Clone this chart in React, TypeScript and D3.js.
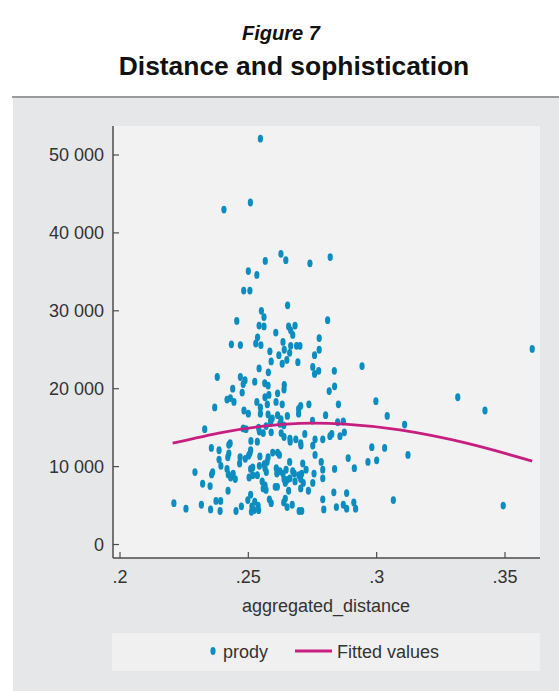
import React from "react";
import * as d3 from "d3";

// aggregated_distance / prody pairs
const distance = [
  0.2547, 0.2405, 0.2508, 0.2566, 0.2627, 0.2646, 0.274, 0.2819, 0.25, 0.2533,
  0.2482, 0.2506, 0.2653, 0.2551, 0.2561, 0.2455, 0.2809, 0.2542, 0.2561, 0.2657,
  0.2682, 0.2665, 0.2673, 0.2607, 0.2536, 0.2529, 0.2549, 0.2434, 0.2469, 0.2635,
  0.2688, 0.2701, 0.2776, 0.2665, 0.2584, 0.264, 0.2776, 0.2619, 0.2661, 0.2758,
  0.2589, 0.265, 0.2632, 0.2693, 0.2542, 0.2751, 0.2758, 0.2774, 0.2578, 0.2835,
  0.2379, 0.2469, 0.2487, 0.248, 0.2525, 0.2564, 0.2577, 0.264, 0.2639, 0.2815,
  0.2836, 0.2439, 0.2476, 0.2614, 0.258, 0.2565, 0.2417, 0.243, 0.2444, 0.2533,
  0.2574, 0.2608, 0.2632, 0.2369, 0.2547, 0.2696, 0.2704, 0.2736, 0.2851, 0.2483,
  0.25, 0.2547, 0.2696, 0.2577, 0.2593, 0.2614, 0.2652, 0.2801, 0.275, 0.2587,
  0.2627, 0.2848, 0.287, 0.2874, 0.2857, 0.2818, 0.2825, 0.279, 0.276, 0.2751,
  0.272, 0.2704, 0.233, 0.248, 0.2491, 0.254, 0.2569, 0.2587, 0.2623, 0.2638,
  0.2543, 0.2558, 0.2589, 0.2628, 0.2639, 0.2662, 0.2663, 0.2685, 0.2705, 0.251,
  0.2535, 0.2429, 0.2424, 0.2356, 0.2386, 0.2509, 0.2506, 0.2424, 0.242, 0.2386,
  0.2468, 0.2466, 0.2488, 0.2501, 0.2545, 0.2577, 0.2595, 0.2614, 0.2621, 0.2573,
  0.2562, 0.2543, 0.2517, 0.2509, 0.2393, 0.2292, 0.2361, 0.2357, 0.2417, 0.2422,
  0.2441, 0.2431, 0.2449, 0.2503, 0.2517, 0.2535, 0.2565, 0.257, 0.2609, 0.2611,
  0.2623, 0.2635, 0.2647, 0.2661, 0.2673, 0.2679, 0.2697, 0.2712, 0.2725, 0.2708,
  0.2756, 0.2784, 0.279, 0.279, 0.2836, 0.2889, 0.2913, 0.2639, 0.2652, 0.2662,
  0.2682, 0.2704, 0.2714, 0.2751, 0.2322, 0.2351, 0.2554, 0.2565, 0.2558, 0.2569,
  0.2605, 0.2613, 0.2644, 0.2657, 0.2704, 0.2734, 0.2421, 0.2509, 0.2498, 0.2525,
  0.2514, 0.2538, 0.254, 0.2522, 0.2512, 0.2582, 0.2589, 0.2644, 0.2638, 0.2651,
  0.2671, 0.2698, 0.2708, 0.279, 0.2794, 0.2833, 0.2843, 0.287, 0.2883, 0.2883,
  0.2911, 0.2918, 0.2257, 0.2317, 0.2353, 0.2374, 0.2392, 0.239, 0.2452, 0.2473,
  0.221, 0.276, 0.2943, 0.2997, 0.3041, 0.3109, 0.2981, 0.3031, 0.3122, 0.2966,
  0.3, 0.3065, 0.3316, 0.3422, 0.3493, 0.3606,
];

const prody = [
  52100, 43000, 43900, 36400, 37300, 36500, 36100, 36900, 35100, 34600,
  32600, 32600, 30700, 30000, 29200, 28700, 28800, 28100, 28000, 28000,
  28100, 27500, 26900, 27200, 26600, 25800, 25600, 25700, 25600, 26000,
  25500, 25500, 26500, 25500, 24800, 25000, 25000, 24300, 24600, 24300,
  23500, 23700, 23200, 23400, 22600, 22800, 21900, 22300, 22100, 22300,
  21500, 21500, 21100, 20600, 20900, 20700, 20400, 20500, 19900, 19700,
  20300, 20000, 19500, 19400, 19200, 18900, 18600, 18800, 18300, 18300,
  18000, 18300, 18000, 17600, 17600, 17400, 17800, 18000, 18000, 17200,
  16800, 16800, 16800, 16700, 16200, 16600, 16500, 16600, 15900, 15900,
  16100, 15700, 15800, 14400, 13900, 13900, 14200, 13500, 13500, 12700,
  14200, 13000, 14800, 14900, 14800, 15000, 15200, 15600, 15500, 15300,
  14500, 14300, 14400, 14300, 13800, 13600, 13200, 13500, 12700, 13300,
  13200, 13000, 12800, 12400, 12100, 12100, 11700, 11700, 11200, 10900,
  11200, 10400, 11000, 11400, 11300, 11200, 11800, 11800, 11500, 10600,
  10300, 10100, 9900, 9700, 10100, 9300, 9300, 9000, 9700, 9000,
  9100, 8600, 8400, 8600, 8900, 8900, 9800, 9300, 9800, 9100,
  9400, 9100, 9600, 10600, 9400, 9100, 8900, 10400, 9600, 9100,
  9100, 10600, 9600, 8500, 9700, 11100, 9800, 8400, 8300, 8500,
  8100, 8400, 7900, 7900, 7800, 7500, 8100, 7600, 7200, 7000,
  7400, 7400, 7900, 6900, 7200, 6900, 6900, 6400, 5700, 5500,
  4900, 5000, 4400, 4400, 4200, 5800, 5300, 5900, 5400, 4800,
  5100, 4300, 4300, 5800, 4500, 6700, 4800, 5100, 6600, 4600,
  5400, 4600, 4600, 5100, 4500, 5600, 5600, 4300, 4300, 4900,
  5300, 11500, 22900, 18400, 16500, 15400, 12500, 12400, 11500, 10600,
  10800, 5700, 18900, 17200, 5000, 25100,
];

// fitted quadratic, read at a few points along the curve
const fitX = [0.2205, 0.24, 0.255, 0.27, 0.2877, 0.309, 0.335, 0.3606];
const fitY = [13000, 14400, 15150, 15550, 15450, 14700, 13000, 10700];

const xTicks = [0.2, 0.25, 0.3, 0.35];
const xTickLabels = [".2", ".25", ".3", ".35"];
const yTicks = [0, 10000, 20000, 30000, 40000, 50000];

const W = 559;
const H = 691;
const font = "'Liberation Sans', Arial, Helvetica, sans-serif";
const dotColor = "#0b8dbf";
const fitColor = "#c71f7f";
const axisColor = "#4d4d4d";
const textColor = "#333333";

const plot = { left: 113, right: 540, top: 126, bottom: 558 };

const fmt = d3
  .formatLocale({ decimal: ".", thousands: " ", grouping: [3], currency: ["", ""] })
  .format(",");

export default function App() {
  const x = d3.scaleLinear().domain([0.2, 0.35]).range([120, 505]);
  const y = d3.scaleLinear().domain([0, 50000]).range([544.5, 155]);

  const line = d3
    .line<number>()
    .x((_, i) => x(fitX[i]))
    .y((d) => y(d))
    .curve(d3.curveNatural);

  return (
    <svg
      width={W}
      height={H}
      style={{ position: "absolute", left: 0, top: 0, display: "block", background: "#fff" }}
      fontFamily={font}
    >
      <text x={281} y={40} textAnchor="middle" fontSize={20} fontWeight="bold" fontStyle="italic" fill="#111">
        Figure 7
      </text>
      <text x={294} y={75} textAnchor="middle" fontSize={26.4} fontWeight="bold" fill="#111">
        Distance and sophistication
      </text>

      <rect x={13} y={97} width={W - 13} height={H - 97} fill="#e6e7e9" />
      <line x1={12} x2={W} y1={97} y2={97} stroke="#9a9a9a" strokeWidth={2} />

      <rect
        x={plot.left}
        y={plot.top}
        width={plot.right - plot.left}
        height={plot.bottom - plot.top}
        fill="#f2f2f2"
      />

      {/* points */}
      <g fill={dotColor}>
        {distance.map((d, i) => (
          <ellipse key={i} cx={x(d)} cy={y(prody[i])} rx={2.6} ry={3.9} />
        ))}
      </g>

      <path d={line(fitY) as string} fill="none" stroke={fitColor} strokeWidth={2.8} />

      {/* y axis */}
      <g>
        <line x1={plot.left} x2={plot.left} y1={plot.top} y2={plot.bottom} stroke={axisColor} strokeWidth={1.5} />
        {yTicks.map((t) => (
          <g key={t}>
            <line x1={plot.left} x2={plot.left + 6} y1={y(t)} y2={y(t)} stroke={axisColor} strokeWidth={1.2} />
            <text x={plot.left - 9} y={y(t)} dy="0.36em" textAnchor="end" fontSize={18} fill={textColor}>
              {fmt(t)}
            </text>
          </g>
        ))}
      </g>

      {/* x axis */}
      <g>
        <line x1={plot.left} x2={plot.right} y1={plot.bottom} y2={plot.bottom} stroke={axisColor} strokeWidth={1.5} />
        {xTicks.map((t, i) => (
          <g key={t}>
            <line x1={x(t)} x2={x(t)} y1={plot.bottom} y2={plot.bottom - 6} stroke={axisColor} strokeWidth={1.2} />
            <text x={x(t)} y={583} textAnchor="middle" fontSize={18} fill={textColor}>
              {xTickLabels[i]}
            </text>
          </g>
        ))}
        <text x={326} y={612} textAnchor="middle" fontSize={18} fill={textColor}>
          aggregated_distance
        </text>
      </g>

      {/* legend */}
      <g>
        <rect x={112} y={633} width={428} height={38} fill="#f0f0f0" />
        <ellipse cx={213} cy={651} rx={2.6} ry={3.9} fill={dotColor} />
        <text x={223} y={657.5} fontSize={18} fill={textColor}>
          prody
        </text>
        <line x1={295} x2={332} y1={651} y2={651} stroke={fitColor} strokeWidth={2.8} />
        <text x={337} y={657.5} fontSize={18} fill={textColor}>
          Fitted values
        </text>
      </g>
    </svg>
  );
}
